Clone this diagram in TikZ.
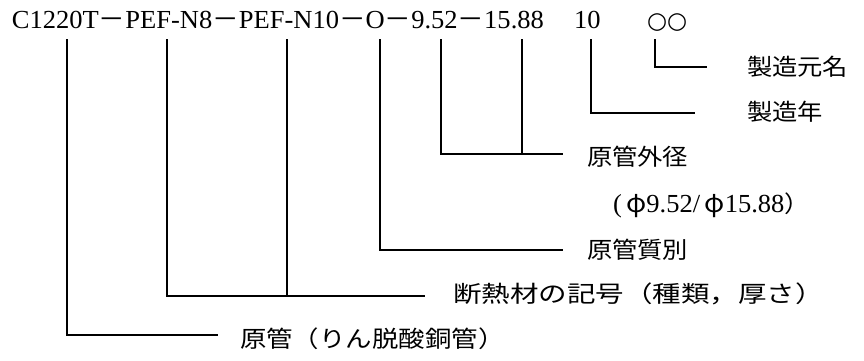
\documentclass[tikz,border=0pt]{standalone}
\usepackage{fontspec}
\usepackage{graphicx}
\setmainfont{Liberation Serif}
\newfontfamily\jp[Kerning=Off]{Noto Sans CJK JP}
\newfontfamily\dvsym{DejaVu Sans}
\newcommand\lt[1]{\scalebox{1.02}[1]{\fontsize{26}{30}\selectfont #1}}
\newcommand\jt[2][1.1]{\scalebox{#1}[1]{\fontsize{23}{27}\selectfont\jp #2}}
\newcommand\jpd{{\jp －}}
\begin{document}
\begin{tikzpicture}[x=1pt,y=-1pt,
  lead/.style={line width=1.3pt},
  lbl/.style={anchor=base west,inner sep=0pt,outer sep=0pt}]
\useasboundingbox (0,0) rectangle (864,360);
% top code line
\node[lbl] (code) at (12,28) {\lt{C1220T\jpd PEF-N8\jpd PEF-N10\jpd O\jpd 9.52\jpd 15.88}};
\node[lbl] (year) at (574,28) {\lt{10}};
\node[lbl] (maker) at (647,28) {\fontsize{23}{26}\selectfont\dvsym ○○};
% labels
\node[lbl] (lmaker) at (747,75.7) {\jt{製造元名}};
\node[lbl] (lyear)  at (747,120.7) {\jt{製造年}};
\node[lbl] (lod)    at (587,165.7) {\jt{原管外径}};
\node[lbl] (lphi)   at (613,212) {\lt{(\,{\jp φ}9.52/\,{\jp φ}15.88}\jt{）}};
\node[lbl] (ltemp)  at (587,258.7) {\jt{原管質別}};
\node[lbl] (lins)   at (453,302.7) {\jt[1.24]{断熱材の記号（種類，厚さ）}};
\node[lbl] (lpipe)  at (240,347.5) {\jt[1.15]{原管（りん脱酸銅管）}};
% tops of leaders
\coordinate (t1) at (67,39);
\coordinate (t2) at (167,39);
\coordinate (t3) at (287,39);
\coordinate (t4) at (380,39);
\coordinate (t5) at (441,39);
\coordinate (t6) at (522,39);
\coordinate (t7) at (591,39);
\coordinate (t8) at (655,39);
% ends of leaders
\coordinate (e1) at (218,335);
\coordinate (e2) at (425,296);
\coordinate (e4) at (563,250);
\coordinate (e5) at (563,154);
\coordinate (e7) at (695,113);
\coordinate (e8) at (707,67);
\draw[lead] (t1) |- (e1);
\draw[lead] (t2) |- (e2);
\draw[lead] (t3) -- (t3 |- e2);
\draw[lead] (t4) |- (e4);
\draw[lead] (t5) |- (e5);
\draw[lead] (t6) -- (t6 |- e5);
\draw[lead] (t7) |- (e7);
\draw[lead] (t8) |- (e8);
\end{tikzpicture}
\end{document}
